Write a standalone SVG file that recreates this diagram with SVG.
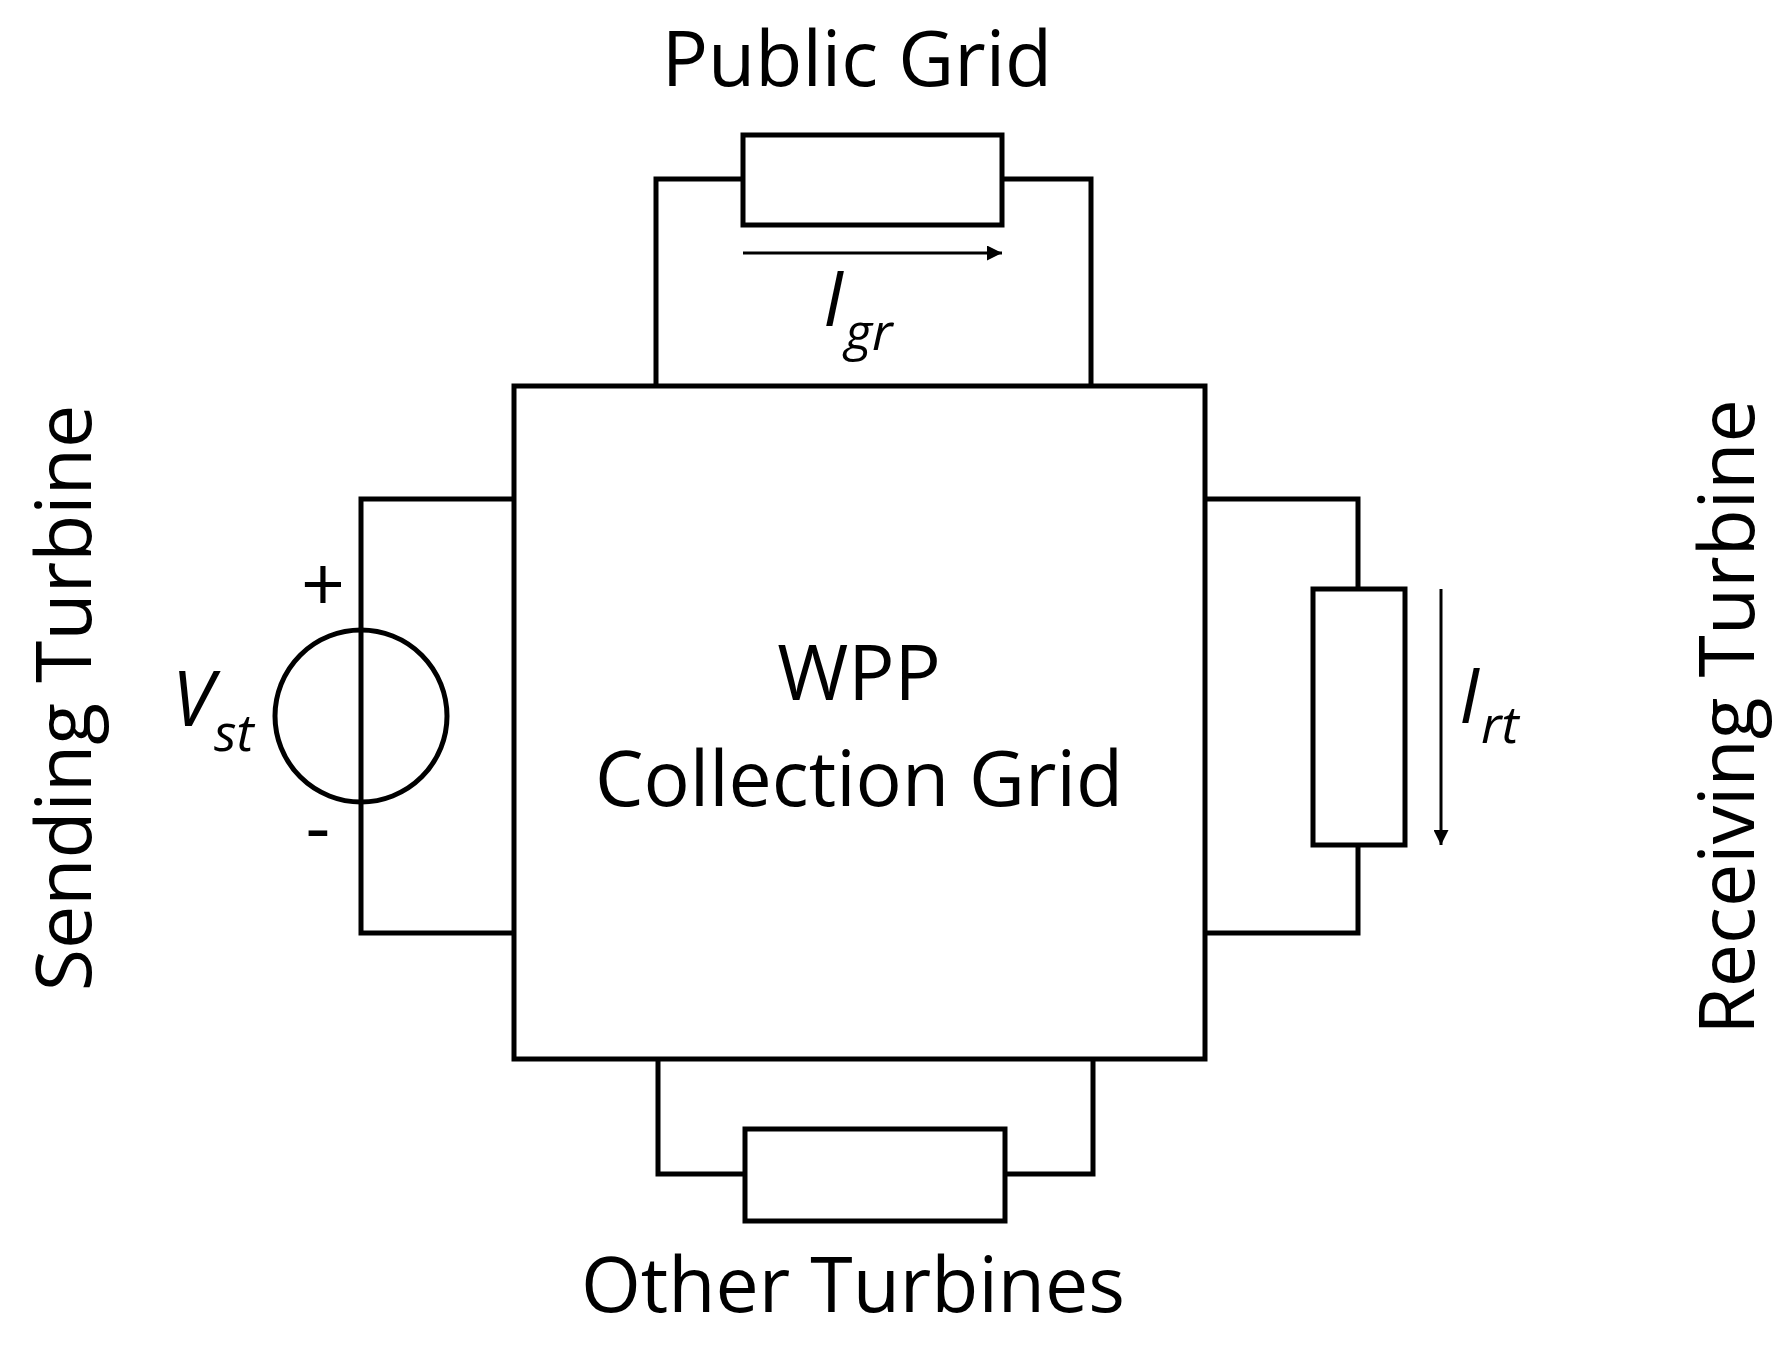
<svg xmlns="http://www.w3.org/2000/svg" width="1779" height="1347" viewBox="0 0 1779 1347">
<defs>
<style>
.w{fill:none;stroke:#000;stroke-width:5}
.t{font-family:"Open Sans","Liberation Sans",sans-serif;font-size:77px;fill:#000;text-anchor:middle}
.i{font-family:"Open Sans","Liberation Sans",sans-serif;font-style:italic;fill:#000}
</style>
<marker id="a" viewBox="0 0 10 10" refX="10" refY="5" markerWidth="5" markerHeight="5" orient="auto"><path d="M0,0L10,5L0,10z"/></marker>
</defs>
<rect width="1779" height="1347" fill="#fff"/>
<g id="wpp"><rect class="w" x="514" y="386" width="691" height="673"/>
<text class="t" x="859" y="700">WPP</text><text class="t" x="859" y="806">Collection Grid</text></g>
<g id="public-grid"><rect class="w" x="743" y="135" width="259" height="90"/><text class="t" x="857" y="86">Public Grid</text></g>
<g id="sending-turbine"><circle class="w" cx="361" cy="716" r="86"/>
<text class="t" transform="translate(91,698) rotate(-90)">Sending Turbine</text>
<text class="t" x="323" y="612" font-size="54">+</text><text class="t" x="318" y="854" font-size="54">-</text>
<text class="i" x="172" y="726" font-size="76">V</text><text class="i" x="214" y="751" font-size="52">st</text></g>
<g id="receiving-turbine"><rect class="w" x="1313" y="589" width="92" height="256"/>
<text class="t" transform="translate(1754,717) rotate(-90)">Receiving Turbine</text></g>
<g id="other-turbines"><rect class="w" x="745" y="1129" width="260" height="92"/><text class="t" x="853" y="1312">Other Turbines</text></g>
<g id="connectors">
<path class="w" d="M743,179H656V386M1002,179H1091V386"/>
<path class="w" d="M514,499H361V933H514"/>
<path class="w" d="M1205,499H1358V589M1358,845V933H1205"/>
<path class="w" d="M658,1059V1174H745M1005,1174H1093V1059"/>
<path d="M743,253H1002" stroke="#000" stroke-width="3" marker-end="url(#a)"/>
<path d="M1441,589V845" stroke="#000" stroke-width="3" marker-end="url(#a)"/>
<text class="i" x="823" y="326" font-size="76">I</text><text class="i" x="845" y="350" font-size="52">gr</text>
<text class="i" x="1459" y="723" font-size="76">I</text><text class="i" x="1481" y="743" font-size="52">rt</text>
</g>
</svg>
